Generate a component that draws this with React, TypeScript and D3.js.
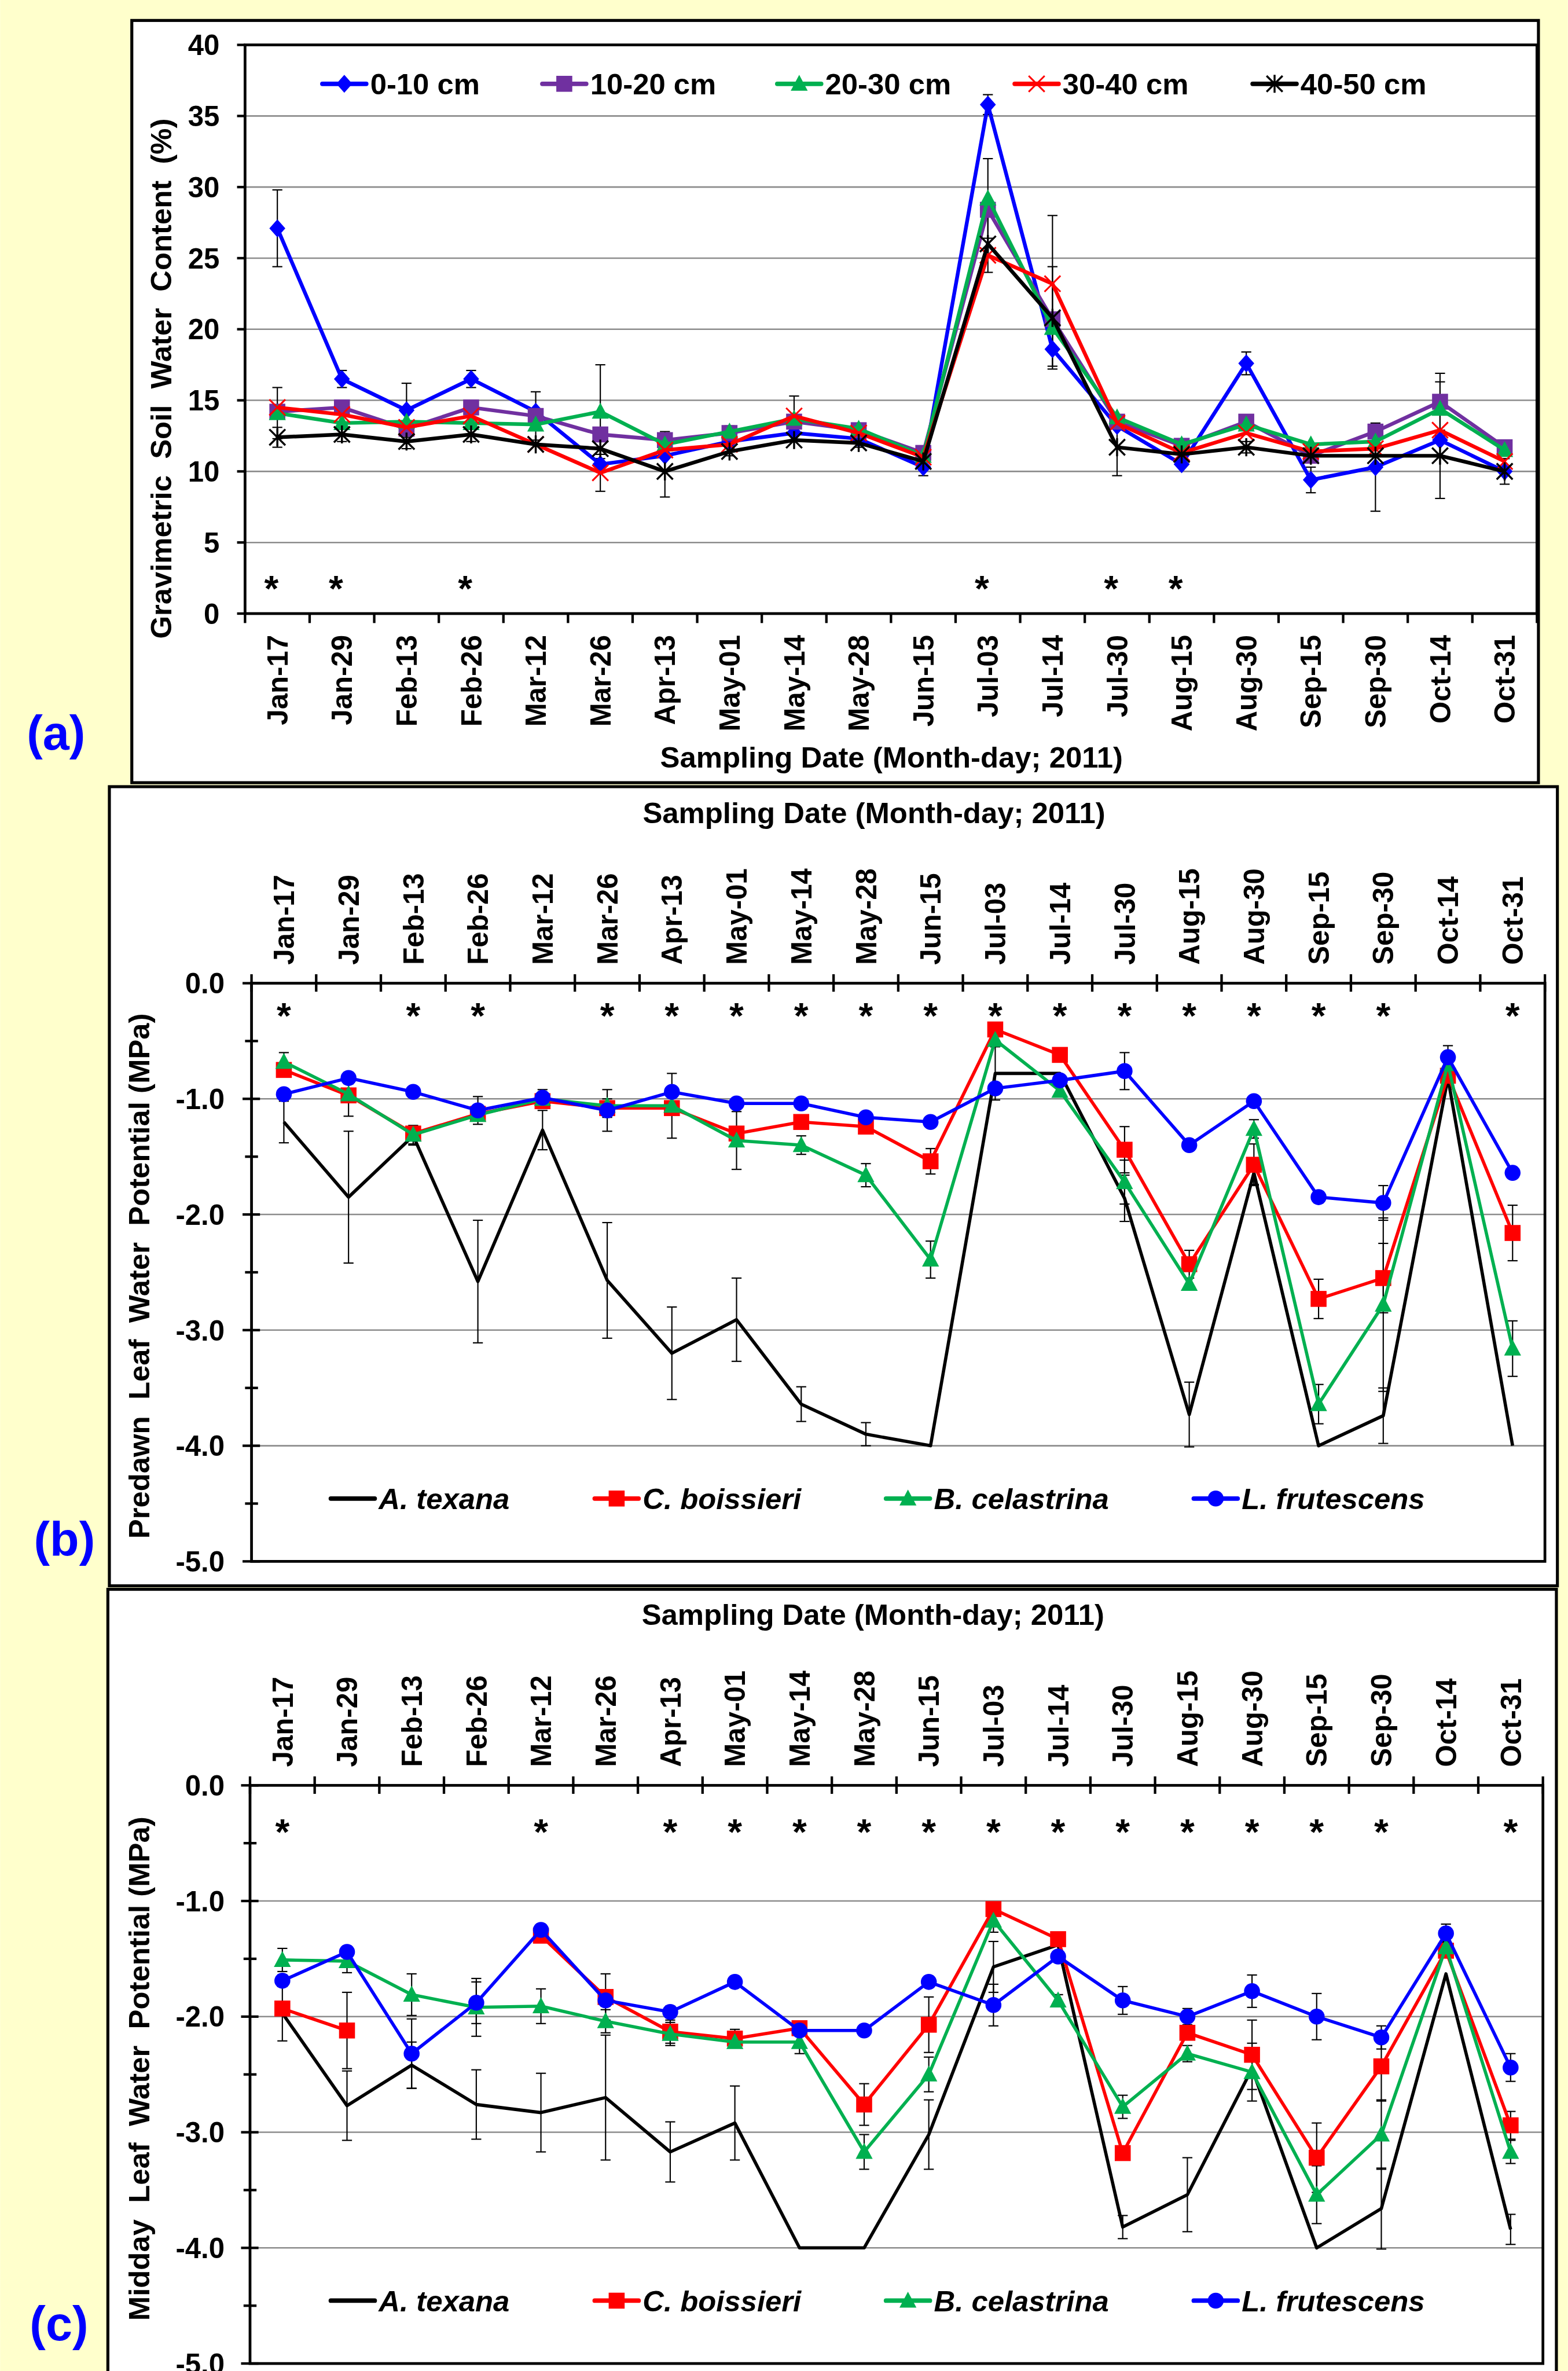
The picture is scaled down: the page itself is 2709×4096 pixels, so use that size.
import * as d3 from "d3";

// ---- data ----
const dates = ["Jan-17", "Jan-29", "Feb-13", "Feb-26", "Mar-12", "Mar-26", "Apr-13", "May-01", "May-14", "May-28",
  "Jun-15", "Jul-03", "Jul-14", "Jul-30", "Aug-15", "Aug-30", "Sep-15", "Sep-30", "Oct-14", "Oct-31"];

// (a) gravimetric soil water content (%)
const soil0_10 = [27.1, 16.5, 14.3, 16.5, 14.2, 10.5, 11.1, 12.1, 12.7, 12.3, 10.3, 35.8, 18.6, 13.2, 10.5, 17.6, 9.4, 10.3, 12.2, 10.0];
const soil10_20 = [14.2, 14.5, 13.0, 14.5, 13.9, 12.6, 12.2, 12.7, 13.5, 12.9, 11.3, 28.4, 20.7, 13.5, 11.8, 13.5, 11.1, 12.8, 14.9, 11.7];
const soil20_30 = [14.1, 13.4, 13.5, 13.4, 13.3, 14.2, 11.9, 12.8, 13.7, 13.0, 11.1, 29.2, 20.1, 13.8, 11.9, 13.3, 11.9, 12.1, 14.4, 11.5];
const soil30_40 = [14.5, 14.0, 13.1, 13.9, 11.9, 9.9, 11.5, 11.9, 13.9, 12.7, 11.0, 25.2, 23.2, 13.4, 11.3, 12.7, 11.4, 11.6, 12.9, 10.7];
const soil40_50 = [12.4, 12.6, 12.1, 12.6, 11.9, 11.6, 10.0, 11.4, 12.2, 12.0, 10.7, 26.0, 20.8, 11.7, 11.2, 11.7, 11.1, 11.1, 11.1, 10.0];
const err0_10 = [2.7, 0.6, 1.9, 0.6, 0, 0, 0, 0, 0, 0, 0.6, 0.7, 1.2, 0, 0, 0.8, 0.9, 3.1, 0, 0];
const err10_20 = [0, 0, 0, 0, 1.7, 0, 0.6, 0.5, 0, 0.4, 0, 0, 0, 0, 0, 0.4, 0, 0.5, 2.0, 0.4];
const err20_30 = [1.8, 0, 0, 0, 0, 3.3, 0, 0, 0, 0, 0, 2.8, 0, 0, 0, 0, 0, 0, 1.9, 0];
const err30_40 = [0, 0, 0, 0, 0, 1.3, 0, 0, 1.4, 0, 0, 0, 4.8, 0, 0, 0, 0, 0, 0, 0];
const err40_50 = [0.7, 0.5, 0.5, 0.5, 0, 0, 1.8, 0.3, 0, 0.3, 0.3, 2.0, 3.6, 2.0, 0.5, 0.4, 0.4, 0, 3.0, 0.9];

// (b) predawn leaf water potential (MPa)
const pdTexana = [-1.2, -1.85, -1.32, -2.58, -1.27, -2.57, -3.2, -2.91, -3.64, -3.9, -4.0, -0.78, -0.78, -1.86, -3.73, -1.64, -4.0, -3.74, -0.82, -4.0];
const pdBoissieri = [-0.75, -0.97, -1.3, -1.13, -1.02, -1.08, -1.08, -1.3, -1.2, -1.24, -1.54, -0.4, -0.62, -1.44, -2.43, -1.57, -2.73, -2.55, -0.8, -2.16];
const pdCelastrina = [-0.68, -0.96, -1.31, -1.14, -1.0, -1.06, -1.06, -1.36, -1.4, -1.66, -2.39, -0.49, -0.93, -1.72, -2.6, -1.26, -3.64, -2.78, -0.7, -3.16];
const pdFrutescens = [-0.96, -0.82, -0.94, -1.1, -0.99, -1.1, -0.94, -1.04, -1.04, -1.16, -1.2, -0.91, -0.84, -0.76, -1.4, -1.02, -1.85, -1.9, -0.64, -1.64];
const pdTexanaErr = [0.18, 0.57, 0.08, 0.53, 0.17, 0.5, 0.4, 0.36, 0.15, 0.1, 0, 0.23, 0, 0.2, 0.28, 0.1, 0, 0.24, 0, 0];
const pdBoissieriErr = [0.05, 0.18, 0, 0, 0.05, 0.08, 0, 0.05, 0.05, 0.06, 0.11, 0.06, 0, 0.2, 0.12, 0.18, 0.17, 0.3, 0, 0.24];
const pdCelastrinaErr = [0.08, 0, 0.08, 0, 0, 0, 0.28, 0.25, 0.08, 0.1, 0.16, 0, 0, 0.19, 0, 0.08, 0.17, 0.75, 0, 0.24];
const pdFrutescensErr = [0, 0.05, 0, 0.12, 0.07, 0.18, 0, 0.03, 0, 0, 0, 0, 0, 0.16, 0.04, 0, 0.05, 0.15, 0.1, 0];

// (c) midday leaf water potential (MPa)
const mdTexana = [-1.97, -2.77, -2.42, -2.76, -2.83, -2.7, -3.17, -2.92, -4.0, -4.0, -3.02, -1.57, -1.38, -3.82, -3.54, -2.45, -4.0, -3.66, -1.63, -3.84];
const mdBoissieri = [-1.93, -2.12, null, null, -1.3, -1.83, -2.13, -2.19, -2.1, -2.76, -2.07, -1.07, -1.33, -3.18, -2.14, -2.33, -3.22, -2.43, -1.43, -2.94];
const mdCelastrina = [-1.51, -1.52, -1.81, -1.92, -1.91, -2.04, -2.15, -2.22, -2.22, -3.17, -2.5, -1.17, -1.86, -2.78, -2.32, -2.48, -3.54, -3.02, -1.4, -3.17];
const mdFrutescens = [-1.69, -1.44, -2.32, -1.88, -1.25, -1.86, -1.96, -1.7, -2.12, -2.12, -1.7, -1.9, -1.48, -1.86, -2.0, -1.78, -2.0, -2.18, -1.28, -2.44];
const mdTexanaErr = [0, 0.3, 0.2, 0.3, 0.34, 0.54, 0.26, 0.32, 0, 0, 0.3, 0.22, 0, 0.1, 0.32, 0, 0, 0.35, 0, 0.13];
const mdBoissieriErr = [0.28, 0.33, 0, 0, 0.05, 0.2, 0.1, 0.08, 0.05, 0.18, 0.24, 0.05, 0.05, 0, 0, 0.3, 0.3, 0.3, 0, 0.12];
const mdCelastrinaErr = [0.1, 0.1, 0.18, 0.25, 0.15, 0.1, 0.1, 0.05, 0.1, 0.15, 0.15, 0.1, 0.05, 0.1, 0.07, 0.25, 0.25, 0.3, 0.05, 0.1];
const mdFrutescensErr = [0.05, 0.05, 0.3, 0.18, 0.05, 0.05, 0.05, 0, 0, 0, 0, 0.18, 0, 0.12, 0.07, 0.14, 0.2, 0.1, 0.08, 0.12];

const soilStars = ["Jan-17", "Jan-29", "Feb-26", "Jul-03", "Jul-30", "Aug-15"];
const predawnStars = ["Jan-17", "Feb-13", "Feb-26", "Mar-26", "Apr-13", "May-01", "May-14", "May-28", "Jun-15", "Jul-03",
  "Jul-14", "Jul-30", "Aug-15", "Aug-30", "Sep-15", "Sep-30", "Oct-31"];
const middayStars = ["Jan-17", "Mar-12", "Apr-13", "May-01", "May-14", "May-28", "Jun-15", "Jul-03", "Jul-14", "Jul-30",
  "Aug-15", "Aug-30", "Sep-15", "Sep-30", "Oct-31"];

const soilTicks = [0, 5, 10, 15, 20, 25, 30, 35, 40];
const mpaTicks = [0, -1, -2, -3, -4, -5];
const mpaMinor = [-0.5, -1.5, -2.5, -3.5, -4.5];

const BLUE = "#0000FF", PURPLE = "#7030A0", GREEN = "#00B050", RED = "#FF0000", BLACK = "#000000";
const FONT = "'Liberation Sans', Arial, Helvetica, sans-serif";

type Series = { name: string; values: (number | null)[]; errors: number[]; color: string; marker: string };

const soilSeries: Series[] = [
  { name: "0-10 cm", values: soil0_10, errors: err0_10, color: BLUE, marker: "diamond" },
  { name: "10-20 cm", values: soil10_20, errors: err10_20, color: PURPLE, marker: "square" },
  { name: "20-30 cm", values: soil20_30, errors: err20_30, color: GREEN, marker: "triangle" },
  { name: "30-40 cm", values: soil30_40, errors: err30_40, color: RED, marker: "cross" },
  { name: "40-50 cm", values: soil40_50, errors: err40_50, color: BLACK, marker: "star" },
];
const predawnSeries: Series[] = [
  { name: "A. texana", values: pdTexana, errors: pdTexanaErr, color: BLACK, marker: "none" },
  { name: "C. boissieri", values: pdBoissieri, errors: pdBoissieriErr, color: RED, marker: "square" },
  { name: "B. celastrina", values: pdCelastrina, errors: pdCelastrinaErr, color: GREEN, marker: "triangle" },
  { name: "L. frutescens", values: pdFrutescens, errors: pdFrutescensErr, color: BLUE, marker: "circle" },
];
const middaySeries: Series[] = [
  { name: "A. texana", values: mdTexana, errors: mdTexanaErr, color: BLACK, marker: "none" },
  { name: "C. boissieri", values: mdBoissieri, errors: mdBoissieriErr, color: RED, marker: "square" },
  { name: "B. celastrina", values: mdCelastrina, errors: mdCelastrinaErr, color: GREEN, marker: "triangle" },
  { name: "L. frutescens", values: mdFrutescens, errors: mdFrutescensErr, color: BLUE, marker: "circle" },
];

function Marker({ type, x, y, color, size }: { type: string; x: number; y: number; color: string; size: number }) {
  const h = size / 2;
  if (type === "diamond") return <path d={`M${x},${y - h - 2}L${x + h},${y}L${x},${y + h + 2}L${x - h},${y}Z`} fill={color} />;
  if (type === "square") return <rect x={x - h} y={y - h} width={size} height={size} fill={color} />;
  if (type === "triangle") return <path d={`M${x},${y - h - 2}L${x + h + 1},${y + h - 2}L${x - h - 1},${y + h - 2}Z`} fill={color} />;
  if (type === "circle") return <circle cx={x} cy={y} r={h} fill={color} />;
  if (type === "cross")
    return <path d={`M${x - h},${y - h}L${x + h},${y + h}M${x - h},${y + h}L${x + h},${y - h}`} stroke={color} strokeWidth={3.5} />;
  if (type === "star")
    return (
      <path d={`M${x - h},${y - h}L${x + h},${y + h}M${x - h},${y + h}L${x + h},${y - h}M${x},${y - h - 2}L${x},${y + h + 2}`}
        stroke={color} strokeWidth={4} />
    );
  return null;
}

type PanelProps = {
  frame: number[]; plot: number[]; domain: number[]; ticks: number[]; minor: number[]; fmt: (v: number) => string;
  top: boolean; xLabelY: number; xTitleX: number; xTitleY: number; yTitle: string; yTitleX: number; yTitleY: number;
  series: Series[]; legendY: number; legendX: number[]; legendItalic: boolean; stars: string[]; starY: number; starDx: number;
  label: string; labelX: number; labelY: number; lineW: number; markSize: number; yLabelX: number;
};

function Panel(p: PanelProps) {
  const [fx0, fy0, fx1, fy1] = p.frame;
  const [px0, py0, px1, py1] = p.plot;
  const x = d3.scaleBand().domain(dates).range([px0, px1]).padding(0);
  const y = d3.scaleLinear().domain(p.domain).range([py1, py0]);
  const bw = x.bandwidth();
  const cx = (d: string) => (x(d) as number) + bw / 2;
  const axisY = p.top ? py0 : py1;
  const bounds = dates.map((d) => x(d) as number).concat([px1]);
  const line = d3.line<number | null>()
    .defined((v) => v !== null)
    .x((_, i) => cx(dates[i]))
    .y((v) => y(v as number));
  const tx = { fontFamily: FONT, fontWeight: "bold" as const };

  return (
    <g>
      <rect x={fx0} y={fy0} width={fx1 - fx0} height={fy1 - fy0} fill="#fff" stroke="#000" strokeWidth={6} />
      {/* gridlines */}
      {p.ticks.filter((t) => y(t) > py0 + 1 && y(t) < py1 - 1).map((t) => (
        <line key={"g" + t} x1={px0} x2={px1} y1={y(t)} y2={y(t)} stroke="#8c8c8c" strokeWidth={3} />
      ))}
      {/* plot border */}
      <rect x={px0} y={py0} width={px1 - px0} height={py1 - py0} fill="none" stroke="#000" strokeWidth={5.5} />
      {/* y ticks */}
      {p.ticks.map((t) => (
        <g key={"yt" + t}>
          <line x1={p.top ? px0 - 18 : px0 - 16} x2={p.top ? px0 + 17 : px0} y1={y(t)} y2={y(t)} stroke="#000" strokeWidth={5} />
          <text x={p.yLabelX} y={y(t)} dy="0.36em" textAnchor="end" fontSize={57} {...tx}>{p.fmt(t)}</text>
        </g>
      ))}
      {p.minor.map((t) => (
        <line key={"ym" + t} x1={px0 - 13} x2={px0 + 13} y1={y(t)} y2={y(t)} stroke="#000" strokeWidth={5} />
      ))}
      {/* x ticks */}
      {bounds.map((b, i) => (
        <line key={"xt" + i} x1={b} x2={b} y1={p.top ? axisY - 18 : axisY} y2={p.top ? axisY + 17 : axisY + 19}
          stroke="#000" strokeWidth={5} />
      ))}
      {dates.map((d) => (
        <text key={"xl" + d} transform={`translate(${cx(d)},${p.xLabelY}) rotate(-90)`} dy="0.36em"
          textAnchor={p.top ? "start" : "end"} fontSize={57} {...tx}>{d}</text>
      ))}
      {/* error bars */}
      {p.series.map((s) => (
        <g key={"e" + s.name}>
          {s.values.map((v, i) => {
            const e = s.errors[i];
            if (v === null || !e) return null;
            const xc = cx(dates[i]);
            const a = y(v + e), b = y(v - e);
            return (
              <g key={i}>
                <line x1={xc} x2={xc} y1={a} y2={b} stroke="#000" strokeWidth={2.5} />
                <line x1={xc - 10} x2={xc + 10} y1={a} y2={a} stroke="#000" strokeWidth={2.5} />
                <line x1={xc - 10} x2={xc + 10} y1={b} y2={b} stroke="#000" strokeWidth={2.5} />
              </g>
            );
          })}
        </g>
      ))}
      {/* series */}
      {p.series.map((s) => (
        <g key={"s" + s.name}>
          <path d={line(s.values) || ""} fill="none" stroke={s.color} strokeWidth={p.lineW} strokeLinejoin="round" />
          {s.values.map((v, i) => v === null ? null : (
            <Marker key={i} type={s.marker} x={cx(dates[i])} y={y(v)} color={s.color} size={p.markSize} />
          ))}
        </g>
      ))}
      {/* significance asterisks */}
      {p.stars.map((d) => (
        <text key={"st" + d} x={cx(d) + p.starDx} y={p.starY} textAnchor="middle" fontSize={74} {...tx}>*</text>
      ))}
      {/* legend */}
      {p.series.map((s, i) => {
        const lx = p.legendX[i];
        return (
          <g key={"l" + s.name}>
            <line x1={lx} x2={lx + 88} y1={p.legendY} y2={p.legendY} stroke={s.color} strokeWidth={9} strokeLinecap="round" />
            <Marker type={s.marker} x={lx + 44} y={p.legendY} color={s.color} size={p.markSize} />
            <text x={lx + 96} y={p.legendY} dy="0.36em" fontSize={59} fontStyle={p.legendItalic ? "italic" : "normal"} {...tx}>
              {s.name}
            </text>
          </g>
        );
      })}
      {/* titles */}
      <text x={p.xTitleX} y={p.xTitleY} textAnchor="middle" fontSize={59} {...tx}>Sampling Date (Month-day; 2011)</text>
      <text transform={`translate(${p.yTitleX},${p.yTitleY}) rotate(-90)`} dy="0.36em" textAnchor="middle" fontSize={59}
        style={{ whiteSpace: "pre" }} {...tx}>{p.yTitle}</text>
      <text x={p.labelX} y={p.labelY} textAnchor="middle" fontSize={96} fill={BLUE} {...tx}>{p.label}</text>
    </g>
  );
}

export default function App() {
  const fmt1 = (v: number) => (v === 0 ? 0 : v).toFixed(1);
  return (
    <svg width={2709} height={4096} viewBox="0 0 3143 4753" style={{ position: "absolute", left: 0, top: 0 }}>
      <rect x={0} y={0} width={3143} height={4753} fill="#FFFFCC" />
      <Panel frame={[264, 41, 3084, 1569]} plot={[491, 90, 3081, 1230]} domain={[0, 40]} ticks={soilTicks} minor={[]}
        fmt={(v) => String(v)} top={false} xLabelY={1273} xTitleX={1787} xTitleY={1539}
        yTitle={"Gravimetric  Soil  Water  Content  (%)"} yTitleX={322} yTitleY={759} yLabelX={440}
        series={soilSeries} legendY={168} legendX={[646, 1087, 1558, 2034, 2511]}
        legendItalic={false} stars={soilStars} starY={1204} starDx={-12}
        label="(a)" labelX={112} labelY={1503} lineW={7.5} markSize={32} />
      <Panel frame={[219, 1577, 3122, 3179]} plot={[504, 1971, 3097, 3130]} domain={[-5, 0]} ticks={mpaTicks} minor={mpaMinor}
        fmt={fmt1} top={true} xLabelY={1934} xTitleX={1752} xTitleY={1650}
        yTitle={"Predawn  Leaf  Water  Potential (MPa)"} yTitleX={278} yTitleY={2558} yLabelX={450}
        series={predawnSeries} legendY={3004} legendX={[663, 1192, 1776, 2393]}
        legendItalic={true} stars={predawnStars} starY={2061} starDx={0}
        label="(b)" labelX={129} labelY={3119} lineW={6.5} markSize={32} />
      <Panel frame={[216, 3186, 3120, 4775]} plot={[501, 3579, 3093, 4738]} domain={[-5, 0]} ticks={mpaTicks} minor={mpaMinor}
        fmt={fmt1} top={true} xLabelY={3542} xTitleX={1750} xTitleY={3257}
        yTitle={"Midday  Leaf  Water  Potential (MPa)"} yTitleX={278} yTitleY={4147} yLabelX={450}
        series={middaySeries} legendY={4612} legendX={[663, 1192, 1776, 2393]}
        legendItalic={true} stars={middayStars} starY={3697} starDx={0}
        label="(c)" labelX={118} labelY={4692} lineW={6.5} markSize={32} />
    </svg>
  );
}
